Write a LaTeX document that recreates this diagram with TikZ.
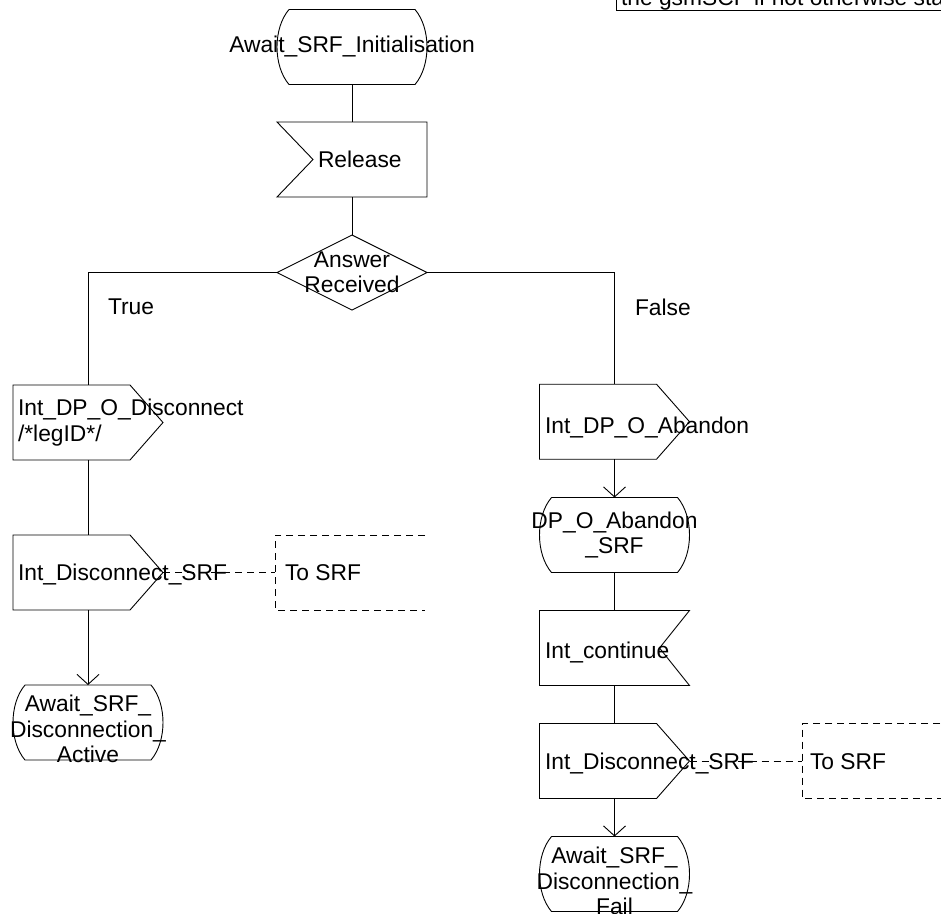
\documentclass[tikz,border=0pt]{standalone}
\usepackage{fontspec}
\setmainfont{Liberation Sans}
\usetikzlibrary{arrows.meta}
\tikzset{
  sdl/.style={draw=black, line width=0.9pt},
  hold/.style={draw=none, minimum width=150pt, minimum height=75pt, inner sep=0pt, outer sep=0pt},
  txt/.style={inner sep=0pt, outer sep=0pt, font=\fontsize{22.8}{25.5}\selectfont},
  cmt/.style={draw=black, line width=0.9pt, dash pattern=on 7pt off 5pt},
  arr/.style={sdl, -{Straight Barb[length=10pt,width=22pt]}},
}
\newcommand\sdlstate[1]{\draw[sdl] ([xshift=12pt]#1.north west) -- ([xshift=-12pt]#1.north east)
  .. controls ([xshift=4pt,yshift=-18.75pt]#1.north east) and ([xshift=4pt,yshift=18.75pt]#1.south east) .. ([xshift=-12pt]#1.south east)
  -- ([xshift=12pt]#1.south west)
  .. controls ([xshift=-4pt,yshift=18.75pt]#1.south west) and ([xshift=-4pt,yshift=-18.75pt]#1.north west) .. ([xshift=12pt]#1.north west);}
\newcommand\sdlout[1]{\draw[sdl] (#1.north west) -- ([xshift=-33pt]#1.north east) -- (#1.east) -- ([xshift=-33pt]#1.south east) -- (#1.south west) -- cycle;}
\newcommand\sdlinL[1]{\draw[sdl] (#1.north west) -- (#1.north east) -- (#1.south east) -- (#1.south west) -- ([xshift=36pt]#1.west) -- cycle;}
\newcommand\sdlinR[1]{\draw[sdl] (#1.north west) -- (#1.north east) -- ([xshift=-30pt]#1.east) -- (#1.south east) -- (#1.south west) -- cycle;}
\newcommand\sdldec[1]{\draw[sdl] (#1.north) -- (#1.east) -- (#1.south) -- (#1.west) -- cycle;}
\newcommand\sdlcmt[1]{\draw[cmt] (#1.north east) -- (#1.north west) -- (#1.south west) -- (#1.south east);}
\begin{document}
\begin{tikzpicture}[x=1pt,y=-1pt]
\useasboundingbox (0,0) rectangle (941,913);
\clip (0,0) rectangle (941,913);
\fill[white] (0,0) rectangle (941,913);

% top-right note (clipped)
\node[hold, minimum width=400pt, minimum height=60pt, anchor=south west] (note) at (616,10) {};
\draw[sdl] (note.south west) rectangle (note.north east);
\node[txt, anchor=base west] (note-t) at (621,5) {the gsmSCF if not otherwise stated};

% shape holders
\node[hold] (init) at (352,47) {};
\node[hold] (rel)  at (352,159.5) {};
\node[hold] (dec)  at (352,272.5) {};
\node[hold] (o1)   at (88,422.5) {};
\node[hold] (o2)   at (88,572.5) {};
\node[hold] (c1)   at (350,572.5) {};
\node[hold] (s2)   at (88,722.5) {};
\node[hold] (o3)   at (614.5,421.7) {};
\node[hold] (s3)   at (614.5,535) {};
\node[hold] (in2)  at (614.5,648) {};
\node[hold] (o4)   at (614.5,761) {};
\node[hold] (c2)   at (877,761) {};
\node[hold] (s4)   at (614.5,874) {};

% outlines
\sdlstate{init}
\sdlinL{rel}
\sdldec{dec}
\sdlout{o1}
\sdlout{o2}
\sdlcmt{c1}
\sdlstate{s2}
\sdlout{o3}
\sdlstate{s3}
\sdlinR{in2}
\sdlout{o4}
\sdlcmt{c2}
\sdlstate{s4}

% connectors
\draw[sdl] (init.south) -- (rel.north);
\draw[sdl] (rel.south) -- (dec.north);
\draw[sdl] (dec.west) -| (o1.north);
\draw[sdl] (dec.east) -| (o3.north);
\draw[sdl] (o1.south) -- (o2.north);
\draw[arr] (o2.south) -- (s2.north);
\draw[cmt] (o2.east) -- (c1.west);
\draw[arr] (o3.south) -- (s3.north);
\draw[sdl] (s3.south) -- (in2.north);
\draw[sdl] (in2.south) -- (o4.north);
\draw[arr] (o4.south) -- (s4.north);
\draw[cmt] (o4.east) -- (c2.west);

% texts
\node[txt] (init-t) at (352,47) {Await\_SRF\_Initialisation};
\node[txt, anchor=west] (rel-t) at (318,159.5) {Release};
\node[txt, align=center] (dec-t) at (352,272.5) {Answer\\Received};
\node[txt, anchor=west] (true-t) at (108,307) {True};
\node[txt, anchor=west] (false-t) at (635,307) {False};
\node[txt, anchor=west, align=left] (o1-t) at (18,422.5) {Int\_DP\_O\_Disconnect\\/*legID*/};
\node[txt, anchor=west] (o2-t) at (18,574) {Int\_Disconnect\_SRF};
\node[txt, anchor=west] (c1-t) at (285,573) {To SRF};
\node[txt, align=center] (s2-t) at (88,729) {Await\_SRF\_\\Disconnection\_\\Active};
\node[txt, anchor=west] (o3-t) at (545,427) {Int\_DP\_O\_Abandon};
\node[txt, align=center] (s3-t) at (614.5,535) {DP\_O\_Abandon\\\_SRF};
\node[txt, anchor=west] (in2-t) at (545,652) {Int\_continue};
\node[txt, anchor=west] (o4-t) at (545,763.5) {Int\_Disconnect\_SRF};
\node[txt, anchor=west] (c2-t) at (810,762) {To SRF};
\node[txt, align=center] (s4-t) at (614.5,881) {Await\_SRF\_\\Disconnection\_\\Fail};
\end{tikzpicture}
\end{document}
